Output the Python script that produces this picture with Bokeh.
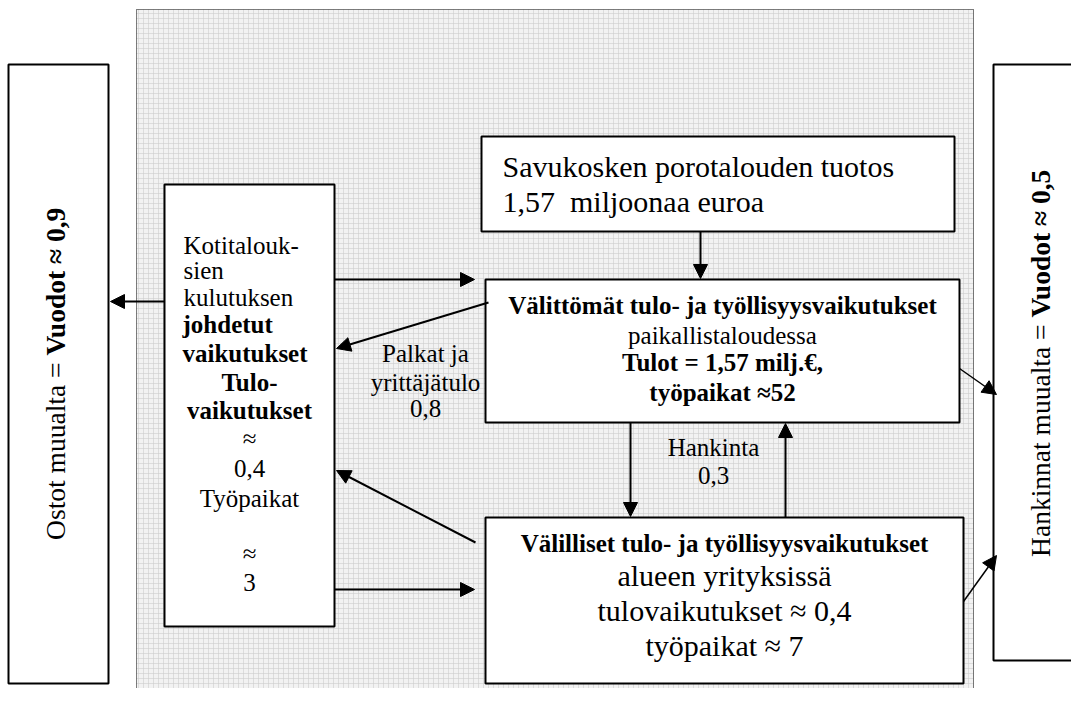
import math
from bokeh.plotting import figure
from bokeh.models import Range1d, ColumnDataSource, Arrow, NormalHead
from bokeh.core.properties import value
from bokeh.embed import file_html
from bokeh.resources import INLINE

FONT = value("'Liberation Serif', 'Times New Roman', 'DejaVu Serif', serif")

# ---------------- data (values shown in the diagram) ----------------
output_meur = "1,57"          # Savukosken porotalouden tuotos
direct_income = "1,57"        # välittömät tulot, milj. €
direct_jobs = "52"
wages = "0,8"                 # palkat ja yrittäjätulo
procurement = "0,3"           # hankinta
indirect_income = "0,4"
indirect_jobs = "7"
induced_income = "0,4"
induced_jobs = "3"
leak_left = "0,9"             # ostot muualta
leak_right = "0,5"            # hankinnat muualta

# ---------------- layout (pixel coordinates of the reference) ----------------
area = dict(left=136, right=973, top=9, bottom=702)

box_left = [8, 164, 481, 485, 485, 993]
box_right = [108, 334, 954, 959, 963, 1110]
box_top = [64, 184, 136, 279, 517, 64]
box_bottom = [683, 626, 231, 422, 683, 660]

arrow_x0 = [334, 488, 700, 164, 630, 785, 475, 334]
arrow_y0 = [279, 302, 231, 301, 422, 517, 542, 589]
arrow_x1 = [474, 336, 700, 110, 630, 785, 336, 474]
arrow_y1 = [279, 348, 278, 301, 516, 423, 470, 589]

thin_x0 = [959, 963]
thin_y0 = [368, 601]
thin_x1 = [996, 996]
thin_y1 = [394, 555]

p = figure(width=1071, height=688, x_range=Range1d(0, 1071), y_range=Range1d(688, 0),
           output_backend="svg", toolbar_location=None, min_border=0,
           x_axis_type=None, y_axis_type=None)
p.grid.visible = False
p.outline_line_color = None
p.background_fill_color = "white"
p.border_fill_color = "white"

# shaded local-economy area
p.quad(left=[area["left"]], right=[area["right"]], top=[area["top"]], bottom=[area["bottom"]],
       fill_color="#f2f2f2", hatch_pattern="+", hatch_scale=5, hatch_color="#cccccc",
       hatch_weight=0.6, line_color="black", line_dash="1 1", line_width=1)

# boxes
p.quad(left=box_left, right=box_right, top=box_top, bottom=box_bottom,
       fill_color="white", line_color="black", line_width=2)

# arrows
src = ColumnDataSource(dict(x0=arrow_x0, y0=arrow_y0, x1=arrow_x1, y1=arrow_y1))
p.add_layout(Arrow(x_start="x0", y_start="y0", x_end="x1", y_end="y1", source=src,
                   line_width=2, line_color="black",
                   end=NormalHead(size=14, fill_color="black", line_color="black", line_width=1)))
src2 = ColumnDataSource(dict(x0=thin_x0, y0=thin_y0, x1=thin_x1, y1=thin_y1))
p.add_layout(Arrow(x_start="x0", y_start="y0", x_end="x1", y_end="y1", source=src2,
                   line_width=1.5, line_color="black",
                   end=NormalHead(size=14, fill_color="black", line_color="black", line_width=1)))


def txt(xs, ys, texts, size, bold=False, align="center", baseline="middle", angle=0.0):
    p.text(x=xs, y=ys, text=texts, text_font=FONT, text_font_size=f"{size}px",
           text_font_style="bold" if bold else "normal", text_align=align,
           text_baseline=baseline, text_color="black", angle=angle)


# top box
txt([502, 502], [166, 201],
    ["Savukosken porotalouden tuotos", f"{output_meur}\u00a0 miljoonaa euroa"], 30, align="left")

# direct effects box
txt([722], [305], ["Välittömät tulo- ja työllisyysvaikutukset"], 25, bold=True)
txt([722], [335], ["paikallistaloudessa"], 25)
txt([722, 722], [362, 392], [f"Tulot = {direct_income} milj.€,", f"työpaikat ≈{direct_jobs}"], 25, bold=True)

# indirect effects box
txt([724], [543], ["Välilliset tulo- ja työllisyysvaikutukset"], 25, bold=True)
txt([724, 724, 724], [575, 610, 645],
    ["alueen yrityksissä", f"tulovaikutukset ≈ {indirect_income}", f"työpaikat ≈ {indirect_jobs}"], 30)

# household box
txt([183, 183, 183], [245, 270, 297], ["Kotitalouk-", "sien", "kulutuksen"], 25, align="left")
txt([182, 182], [324, 353], ["johdetut", "vaikutukset"], 25, bold=True, align="left")
txt([249, 249], [382, 410], ["Tulo-", "vaikutukset"], 25, bold=True)
txt([249, 249, 249, 249, 249], [438, 468, 498, 553, 582],
    ["≈", induced_income, "Työpaikat", "≈", induced_jobs], 25)

# flow labels
txt([425, 425, 425], [353, 382, 408], ["Palkat ja", "yrittäjätulo", wages], 25)
txt([713, 713], [447, 475], ["Hankinta", procurement], 25)

# rotated side texts
txt([55], [362], ["Ostot muualta ="], 27.5, align="right", baseline="alphabetic", angle=math.pi / 2)
txt([55], [355], [f"Vuodot ≈ {leak_left}"], 27.5, bold=True, align="left", baseline="alphabetic", angle=math.pi / 2)
txt([1040], [324], ["Hankinnat muualta ="], 27.5, align="right", baseline="alphabetic", angle=math.pi / 2)
txt([1040], [317], [f"Vuodot ≈ {leak_right}"], 27.5, bold=True, align="left", baseline="alphabetic", angle=math.pi / 2)

open("out.html", "w").write(file_html(p, INLINE))
